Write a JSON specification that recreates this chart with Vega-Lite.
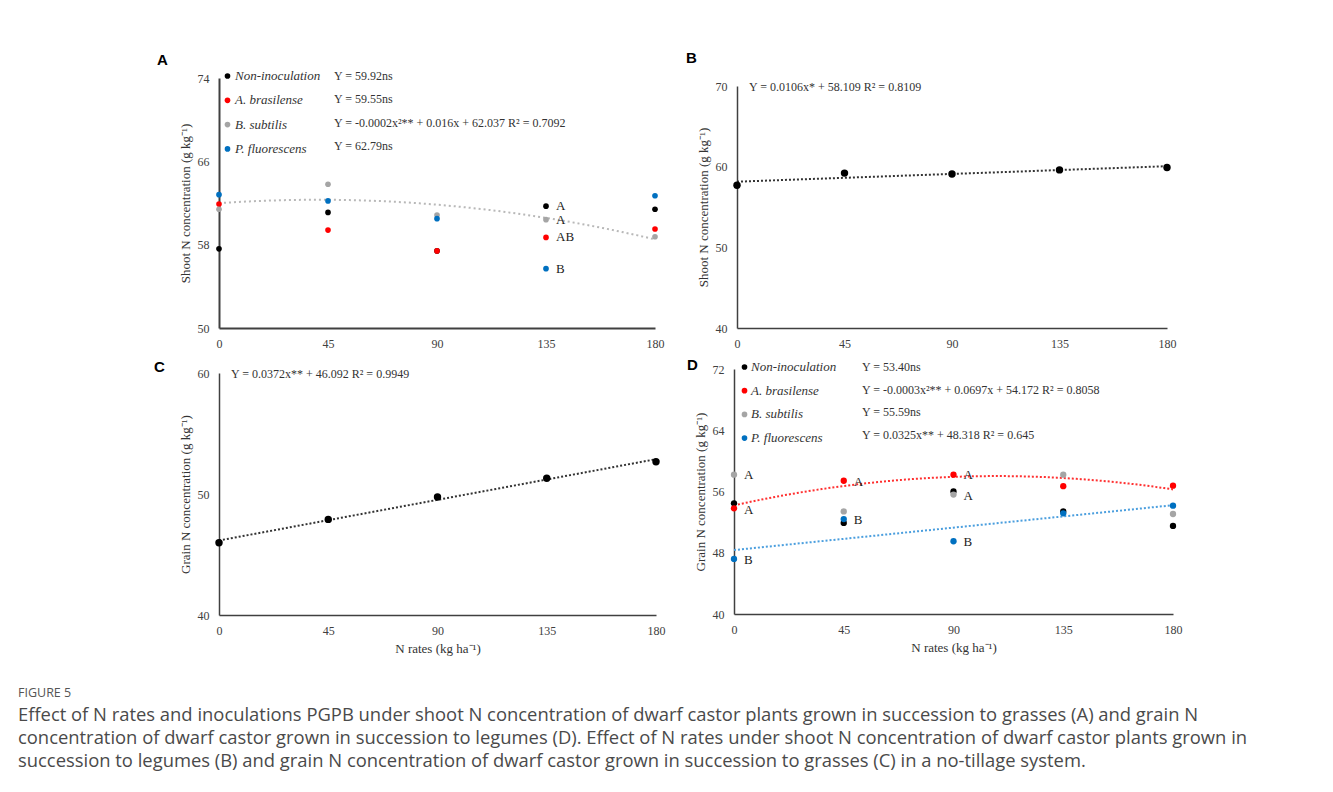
{
  "$schema": "https://vega.github.io/schema/vega-lite/v6.json",
  "background": "white",
  "autosize": {"type": "pad"},
  "padding": {"left": 18, "top": 50, "right": 5, "bottom": 5},
  "datasets": {
    "pts": [
      {"panel": "A", "x": 0, "y": 57.6, "series": "Non-inoculation"},
      {"panel": "A", "x": 0, "y": 61.9, "series": "A. brasilense"},
      {"panel": "A", "x": 0, "y": 61.4, "series": "B. subtilis"},
      {"panel": "A", "x": 0, "y": 62.8, "series": "P. fluorescens"},
      {"panel": "A", "x": 45, "y": 61.1, "series": "Non-inoculation"},
      {"panel": "A", "x": 45, "y": 59.4, "series": "A. brasilense"},
      {"panel": "A", "x": 45, "y": 63.8, "series": "B. subtilis"},
      {"panel": "A", "x": 45, "y": 62.2, "series": "P. fluorescens"},
      {"panel": "A", "x": 90, "y": 57.4, "series": "Non-inoculation"},
      {"panel": "A", "x": 90, "y": 57.4, "series": "A. brasilense"},
      {"panel": "A", "x": 90, "y": 60.85, "series": "B. subtilis"},
      {"panel": "A", "x": 90, "y": 60.5, "series": "P. fluorescens"},
      {"panel": "A", "x": 135, "y": 61.7, "series": "Non-inoculation"},
      {"panel": "A", "x": 135, "y": 58.7, "series": "A. brasilense"},
      {"panel": "A", "x": 135, "y": 60.4, "series": "B. subtilis"},
      {"panel": "A", "x": 135, "y": 55.7, "series": "P. fluorescens"},
      {"panel": "A", "x": 180, "y": 61.4, "series": "Non-inoculation"},
      {"panel": "A", "x": 180, "y": 59.5, "series": "A. brasilense"},
      {"panel": "A", "x": 180, "y": 58.76, "series": "B. subtilis"},
      {"panel": "A", "x": 180, "y": 62.7, "series": "P. fluorescens"},
      {"panel": "B", "x": 0, "y": 57.7, "series": "Mean"},
      {"panel": "B", "x": 45, "y": 59.2, "series": "Mean"},
      {"panel": "B", "x": 90, "y": 59.1, "series": "Mean"},
      {"panel": "B", "x": 135, "y": 59.6, "series": "Mean"},
      {"panel": "B", "x": 180, "y": 59.9, "series": "Mean"},
      {"panel": "C", "x": 0, "y": 45.97, "series": "Mean"},
      {"panel": "C", "x": 45, "y": 47.9, "series": "Mean"},
      {"panel": "C", "x": 90, "y": 49.75, "series": "Mean"},
      {"panel": "C", "x": 135, "y": 51.3, "series": "Mean"},
      {"panel": "C", "x": 180, "y": 52.67, "series": "Mean"},
      {"panel": "D", "x": 0, "y": 54.46, "series": "Non-inoculation"},
      {"panel": "D", "x": 0, "y": 53.8, "series": "A. brasilense"},
      {"panel": "D", "x": 0, "y": 58.2, "series": "B. subtilis"},
      {"panel": "D", "x": 0, "y": 47.2, "series": "P. fluorescens"},
      {"panel": "D", "x": 45, "y": 51.9, "series": "Non-inoculation"},
      {"panel": "D", "x": 45, "y": 57.4, "series": "A. brasilense"},
      {"panel": "D", "x": 45, "y": 53.4, "series": "B. subtilis"},
      {"panel": "D", "x": 45, "y": 52.4, "series": "P. fluorescens"},
      {"panel": "D", "x": 90, "y": 56.0, "series": "Non-inoculation"},
      {"panel": "D", "x": 90, "y": 58.2, "series": "A. brasilense"},
      {"panel": "D", "x": 90, "y": 55.6, "series": "B. subtilis"},
      {"panel": "D", "x": 90, "y": 49.5, "series": "P. fluorescens"},
      {"panel": "D", "x": 135, "y": 53.4, "series": "Non-inoculation"},
      {"panel": "D", "x": 135, "y": 56.7, "series": "A. brasilense"},
      {"panel": "D", "x": 135, "y": 58.2, "series": "B. subtilis"},
      {"panel": "D", "x": 135, "y": 53.15, "series": "P. fluorescens"},
      {"panel": "D", "x": 180, "y": 51.5, "series": "Non-inoculation"},
      {"panel": "D", "x": 180, "y": 56.76, "series": "A. brasilense"},
      {"panel": "D", "x": 180, "y": 53.06, "series": "B. subtilis"},
      {"panel": "D", "x": 180, "y": 54.15, "series": "P. fluorescens"}
    ],
    "letters": [
      {"panel": "A", "x": 135, "y": 61.7, "label": "A"},
      {"panel": "A", "x": 135, "y": 60.4, "label": "A"},
      {"panel": "A", "x": 135, "y": 58.7, "label": "AB"},
      {"panel": "A", "x": 135, "y": 55.7, "label": "B"},
      {"panel": "D", "x": 0, "y": 58.2, "label": "A"},
      {"panel": "D", "x": 0, "y": 53.6, "label": "A"},
      {"panel": "D", "x": 0, "y": 47.05, "label": "B"},
      {"panel": "D", "x": 45, "y": 57.3, "label": "A"},
      {"panel": "D", "x": 45, "y": 52.3, "label": "B"},
      {"panel": "D", "x": 90, "y": 58.1, "label": "A"},
      {"panel": "D", "x": 90, "y": 55.45, "label": "A"},
      {"panel": "D", "x": 90, "y": 49.4, "label": "B"}
    ],
    "fitA": [
      {"series": "Non-inoculation", "k": 1, "eq": "Y = 59.92ns"},
      {"series": "A. brasilense", "k": 2, "eq": "Y = 59.55ns"},
      {"series": "B. subtilis", "k": 3, "eq": "Y = -0.0002x²** + 0.016x + 62.037 R² = 0.7092"},
      {"series": "P. fluorescens", "k": 4, "eq": "Y = 62.79ns"}
    ],
    "fitB": [{"panel": "B", "k": 1, "eq": "Y = 0.0106x* + 58.109 R² = 0.8109"}],
    "fitC": [{"panel": "C", "k": 1, "eq": "Y = 0.0372x** + 46.092 R² = 0.9949"}],
    "fitD": [
      {"series": "Non-inoculation", "k": 1, "eq": "Y = 53.40ns"},
      {"series": "A. brasilense", "k": 2, "eq": "Y = -0.0003x²** + 0.0697x + 54.172 R² = 0.8058"},
      {"series": "B. subtilis", "k": 3, "eq": "Y = 55.59ns"},
      {"series": "P. fluorescens", "k": 4, "eq": "Y = 0.0325x** + 48.318 R² = 0.645"}
    ]
  },
  "title": {
    "text": "FIGURE 5",
    "subtitle": [
      "Effect of N rates and inoculations PGPB under shoot N concentration of dwarf castor plants grown in succession to grasses (A) and grain N",
      "concentration of dwarf castor grown in succession to legumes (D). Effect of N rates under shoot N concentration of dwarf castor plants grown in",
      "succession to legumes (B) and grain N concentration of dwarf castor grown in succession to grasses (C) in a no-tillage system."
    ],
    "orient": "bottom",
    "anchor": "start",
    "frame": "group",
    "dx": -201,
    "offset": 32,
    "baseline": "top",
    "font": "Open Sans",
    "fontSize": 12.5,
    "fontWeight": "normal",
    "color": "#555555",
    "subtitleFont": "Open Sans",
    "subtitleFontSize": 18.4,
    "subtitleColor": "#4a4a4a",
    "subtitleLineHeight": 23,
    "subtitlePadding": 6
  },
  "spacing": 8,
  "resolve": {"scale": {"color": "independent", "shape": "independent"}, "legend": {"color": "independent", "shape": "independent"}},
  "vconcat": [
    {
      "hconcat": [
        {
          "width": 436,
          "height": 250,
          "title": {"text": "A", "dx": -62, "offset": 2},
          "encoding": {
            "x": {"field": "x", "type": "quantitative", "scale": {"domain": [0, 180]}, "axis": {"values": [0, 45, 90, 135, 180], "title": null, "domainWidth": 2}},
            "y": {"field": "y", "type": "quantitative", "scale": {"domain": [50, 74]}, "axis": {"values": [50, 58, 66, 74], "title": "Shoot N concentration (g kg⁻¹)", "domainWidth": 2}}
          },
          "layer": [
            {
              "data": {"name": "pts"},
              "transform": [
                {"filter": "datum.panel === 'A' && datum.series === 'B. subtilis'"},
                {"regression": "y", "on": "x", "method": "poly", "order": 2, "extent": [0, 180]}
              ],
              "mark": {"type": "line", "strokeDash": [2, 3], "strokeWidth": 2, "color": "#b8b8b8"},
              "encoding": {}
            },
            {
              "data": {"name": "pts"},
              "transform": [
                {"filter": "datum.panel === 'A'"},
                {"lookup": "series", "from": {"data": {"name": "fitA"}, "key": "series", "fields": ["eq", "k"]}}
              ],
              "mark": {"type": "point", "filled": true, "size": 32, "opacity": 1},
              "encoding": {
                "color": {"field": "series", "type": "nominal",
                  "scale": {"domain": ["Non-inoculation", "A. brasilense", "B. subtilis", "P. fluorescens"], "range": ["#000000", "#ff0000", "#a5a5a5", "#0070c0"]},
                  "legend": {"title": null, "orient": "none", "legendX": 2, "legendY": -8.5, "labelFont": "Liberation Serif", "labelFontStyle": "italic", "labelFontSize": 13, "labelColor": "#333333", "symbolType": "circle", "symbolSize": 32, "symbolStrokeWidth": 0, "labelOffset": 1, "rowPadding": 10.3, "padding": 0}},
                "shape": {"field": "eq", "type": "nominal", "sort": {"field": "k", "op": "min"}, "scale": {"range": ["circle"]},
                  "legend": {"title": null, "orient": "none", "legendX": 103, "legendY": -8, "labelFont": "Liberation Serif", "labelFontSize": 12, "labelColor": "#333333", "symbolOpacity": 0, "symbolSize": 1, "symbolStrokeWidth": 0, "labelOffset": 0, "rowPadding": 11.3, "labelLimit": 600, "padding": 0}}
              }
            },
            {
              "data": {"name": "letters"},
              "transform": [{"filter": "datum.panel === 'A'"}],
              "mark": {"type": "text", "align": "left", "baseline": "middle", "dx": 10, "font": "Liberation Serif", "fontSize": 13, "color": "#222222"},
              "encoding": {"text": {"field": "label", "type": "nominal"}}
            }
          ]
        },
        {
          "width": 430,
          "height": 250,
          "title": {"text": "B", "dx": -51, "offset": 12.5},
          "encoding": {
            "x": {"field": "x", "type": "quantitative", "scale": {"domain": [0, 180]}, "axis": {"values": [0, 45, 90, 135, 180], "title": null}},
            "y": {"field": "y", "type": "quantitative", "scale": {"domain": [40, 70], "range": [250, 8]}, "axis": {"values": [40, 50, 60, 70], "title": "Shoot N concentration (g kg⁻¹)"}}
          },
          "layer": [
            {
              "data": {"name": "pts"},
              "transform": [
                {"filter": "datum.panel === 'B'"},
                {"regression": "y", "on": "x", "method": "linear", "extent": [0, 180]}
              ],
              "mark": {"type": "line", "strokeDash": [2, 2], "strokeWidth": 2, "color": "#333333"},
              "encoding": {}
            },
            {
              "data": {"name": "pts"},
              "transform": [
                {"filter": "datum.panel === 'B'"},
                {"lookup": "panel", "from": {"data": {"name": "fitB"}, "key": "panel", "fields": ["eq", "k"]}}
              ],
              "mark": {"type": "point", "filled": true, "size": 55, "opacity": 1, "color": "#000000"},
              "encoding": {
                "shape": {"field": "eq", "type": "nominal", "scale": {"range": ["circle"]},
                  "legend": {"title": null, "orient": "none", "legendX": 0, "legendY": 2.7, "labelFont": "Liberation Serif", "labelFontSize": 12, "labelColor": "#333333", "symbolOpacity": 0, "symbolSize": 1, "symbolStrokeWidth": 0, "labelOffset": 0, "labelLimit": 600, "padding": 0}}
              }
            }
          ]
        }
      ],
      "spacing": 22,
      "resolve": {"scale": {"color": "independent", "shape": "independent"}, "legend": {"color": "independent", "shape": "independent"}}
    },
    {
      "hconcat": [
        {
          "width": 437,
          "height": 246,
          "title": {"text": "C", "dx": -65, "offset": 0, "dy": 8},
          "encoding": {
            "x": {"field": "x", "type": "quantitative", "scale": {"domain": [0, 180]}, "axis": {"values": [0, 45, 90, 135, 180], "title": "N rates (kg ha⁻¹)"}},
            "y": {"field": "y", "type": "quantitative", "scale": {"domain": [40, 60], "range": [246, 4]}, "axis": {"values": [40, 50, 60], "title": "Grain N concentration (g kg⁻¹)"}}
          },
          "layer": [
            {
              "data": {"name": "pts"},
              "transform": [
                {"filter": "datum.panel === 'C'"},
                {"regression": "y", "on": "x", "method": "linear", "extent": [0, 180]}
              ],
              "mark": {"type": "line", "strokeDash": [2, 2], "strokeWidth": 2, "color": "#333333"},
              "encoding": {}
            },
            {
              "data": {"name": "pts"},
              "transform": [
                {"filter": "datum.panel === 'C'"},
                {"lookup": "panel", "from": {"data": {"name": "fitC"}, "key": "panel", "fields": ["eq", "k"]}}
              ],
              "mark": {"type": "point", "filled": true, "size": 55, "opacity": 1, "color": "#000000"},
              "encoding": {
                "shape": {"field": "eq", "type": "nominal", "scale": {"range": ["circle"]},
                  "legend": {"title": null, "orient": "none", "legendX": 0, "legendY": -1, "labelFont": "Liberation Serif", "labelFontSize": 12, "labelColor": "#333333", "symbolOpacity": 0, "symbolSize": 1, "symbolStrokeWidth": 0, "labelOffset": 0, "labelLimit": 600, "padding": 0}}
              }
            }
          ]
        },
        {
          "width": 439,
          "height": 245,
          "title": {"text": "D", "dx": -47, "offset": 0, "dy": 12},
          "encoding": {
            "x": {"field": "x", "type": "quantitative", "scale": {"domain": [0, 180]}, "axis": {"values": [0, 45, 90, 135, 180], "title": "N rates (kg ha⁻¹)"}},
            "y": {"field": "y", "type": "quantitative", "scale": {"domain": [40, 72]}, "axis": {"values": [40, 48, 56, 64, 72], "title": "Grain N concentration (g kg⁻¹)"}}
          },
          "layer": [
            {
              "data": {"name": "pts"},
              "transform": [
                {"filter": "datum.panel === 'D' && datum.series === 'A. brasilense'"},
                {"regression": "y", "on": "x", "method": "poly", "order": 2, "extent": [0, 180]}
              ],
              "mark": {"type": "line", "strokeDash": [2, 2], "strokeWidth": 2, "color": "#ff3030"},
              "encoding": {}
            },
            {
              "data": {"name": "pts"},
              "transform": [
                {"filter": "datum.panel === 'D' && datum.series === 'P. fluorescens'"},
                {"regression": "y", "on": "x", "method": "linear", "extent": [0, 180]}
              ],
              "mark": {"type": "line", "strokeDash": [2, 2], "strokeWidth": 2, "color": "#4a9ede"},
              "encoding": {}
            },
            {
              "data": {"name": "pts"},
              "transform": [
                {"filter": "datum.panel === 'D'"},
                {"lookup": "series", "from": {"data": {"name": "fitD"}, "key": "series", "fields": ["eq", "k"]}}
              ],
              "mark": {"type": "point", "filled": true, "size": 40, "opacity": 1},
              "encoding": {
                "color": {"field": "series", "type": "nominal",
                  "scale": {"domain": ["Non-inoculation", "A. brasilense", "B. subtilis", "P. fluorescens"], "range": ["#000000", "#ff0000", "#a5a5a5", "#0070c0"]},
                  "legend": {"title": null, "orient": "none", "legendX": 4, "legendY": -8.5, "labelFont": "Liberation Serif", "labelFontStyle": "italic", "labelFontSize": 13, "labelColor": "#333333", "symbolType": "circle", "symbolSize": 32, "symbolStrokeWidth": 0, "labelOffset": 0, "rowPadding": 9.7, "padding": 0}},
                "shape": {"field": "eq", "type": "nominal", "sort": {"field": "k", "op": "min"}, "scale": {"range": ["circle"]},
                  "legend": {"title": null, "orient": "none", "legendX": 116, "legendY": -8, "labelFont": "Liberation Serif", "labelFontSize": 12, "labelColor": "#333333", "symbolOpacity": 0, "symbolSize": 1, "symbolStrokeWidth": 0, "labelOffset": 0, "rowPadding": 10.7, "labelLimit": 600, "padding": 0}}
              }
            },
            {
              "data": {"name": "letters"},
              "transform": [{"filter": "datum.panel === 'D'"}],
              "mark": {"type": "text", "align": "left", "baseline": "middle", "dx": 10, "font": "Liberation Serif", "fontSize": 13, "color": "#222222"},
              "encoding": {"text": {"field": "label", "type": "nominal"}}
            }
          ]
        }
      ],
      "spacing": 22,
      "resolve": {"scale": {"color": "independent", "shape": "independent"}, "legend": {"color": "independent", "shape": "independent"}}
    }
  ],
  "config": {
    "view": {"stroke": null},
    "axis": {"grid": false, "ticks": false, "labelFlush": false, "domainColor": "#404040", "domainWidth": 1.5, "labelFont": "Liberation Serif", "labelFontSize": 12, "labelColor": "#404040", "titleFont": "Liberation Serif", "titleFontSize": 13, "titleFontWeight": "normal", "titleColor": "#333333"},
    "axisX": {"labelPadding": 10, "titlePadding": 6, "labelFlush": false},
    "axisY": {"labelPadding": 10, "titlePadding": 5},
    "title": {"font": "Liberation Sans", "fontSize": 15, "fontWeight": "bold", "color": "#000000", "anchor": "start", "frame": "group", "baseline": "alphabetic"}
  }
}
